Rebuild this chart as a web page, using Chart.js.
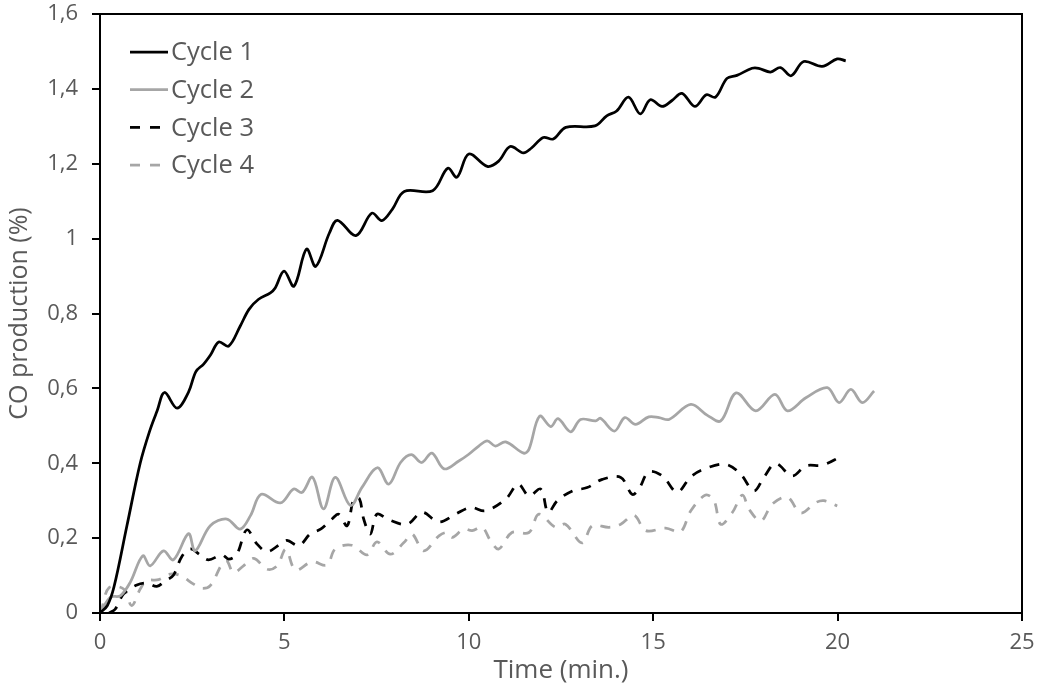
<!DOCTYPE html>
<html>
<head>
<meta charset="utf-8">
<script src="https://cdn.jsdelivr.net/npm/chart.js@4.4.0/dist/chart.umd.min.js"></script>
<style>
    body { margin: 0; background: #fff; }
    #wrap { width: 1039px; height: 686px; }
</style>
</head>
<body>
<div id="wrap"><canvas id="coChart"></canvas></div>
<script>
// values (time in min., CO in %)
const cycleLabels = ["Cycle 1", "Cycle 2", "Cycle 3", "Cycle 4"];

const cycle1Time = [0, 0.2, 0.38, 0.73, 1.09, 1.36, 1.55, 1.75, 2.09, 2.4, 2.6, 2.81, 3.0, 3.22, 3.49, 3.8, 4.04, 4.3, 4.62, 4.75, 4.99, 5.26, 5.6, 5.85, 6.22, 6.44, 6.94, 7.37, 7.64, 7.93, 8.25, 9.02, 9.43, 9.68, 10.0, 10.5, 10.81, 11.12, 11.48, 11.7, 12.02, 12.29, 12.63, 13.42, 13.74, 14.01, 14.33, 14.65, 14.92, 15.24, 15.51, 15.78, 16.13, 16.44, 16.69, 17.0, 17.27, 17.68, 17.86, 18.18, 18.45, 18.74, 19.08, 19.58, 19.99, 20.22];
const cycle1Values = [0, 0.02, 0.07, 0.233, 0.4, 0.49, 0.54, 0.589, 0.547, 0.59, 0.645, 0.665, 0.69, 0.724, 0.713, 0.766, 0.811, 0.838, 0.855, 0.868, 0.913, 0.873, 0.972, 0.926, 1.015, 1.049, 1.008, 1.068, 1.048, 1.079, 1.126, 1.128, 1.188, 1.164, 1.226, 1.193, 1.207, 1.246, 1.229, 1.242, 1.27, 1.266, 1.297, 1.301, 1.328, 1.341, 1.378, 1.333, 1.371, 1.353, 1.369, 1.388, 1.353, 1.384, 1.378, 1.428, 1.436, 1.455, 1.455, 1.445, 1.457, 1.435, 1.473, 1.46, 1.48, 1.475];

const cycle2Time = [0, 0.28, 0.55, 0.82, 1.16, 1.36, 1.72, 1.99, 2.4, 2.58, 2.99, 3.44, 3.8, 4.08, 4.37, 4.89, 5.25, 5.48, 5.76, 6.06, 6.38, 6.79, 7.1, 7.52, 7.83, 8.15, 8.44, 8.72, 9.0, 9.33, 9.73, 10.0, 10.27, 10.5, 10.72, 11.0, 11.49, 11.63, 11.92, 12.22, 12.42, 12.76, 13.03, 13.44, 13.57, 13.95, 14.23, 14.52, 14.88, 15.16, 15.43, 16.02, 16.47, 16.83, 17.25, 17.78, 18.3, 18.64, 19.14, 19.72, 20.04, 20.36, 20.67, 20.99];
const cycle2Values = [0, 0.042, 0.046, 0.082, 0.153, 0.126, 0.166, 0.142, 0.212, 0.166, 0.233, 0.251, 0.224, 0.26, 0.317, 0.294, 0.331, 0.322, 0.363, 0.278, 0.362, 0.287, 0.335, 0.388, 0.344, 0.402, 0.423, 0.402, 0.427, 0.385, 0.406, 0.424, 0.446, 0.46, 0.446, 0.457, 0.427, 0.437, 0.526, 0.498, 0.519, 0.484, 0.517, 0.513, 0.52, 0.486, 0.522, 0.504, 0.524, 0.522, 0.517, 0.557, 0.528, 0.513, 0.588, 0.54, 0.584, 0.54, 0.575, 0.602, 0.562, 0.597, 0.562, 0.593];

const cycle3Time = [0.25, 0.41, 0.64, 1.0, 1.27, 1.54, 1.77, 1.99, 2.22, 2.45, 2.72, 2.94, 3.31, 3.49, 3.71, 3.98, 4.26, 4.53, 4.89, 5.07, 5.39, 5.7, 5.98, 6.29, 6.47, 6.7, 6.88, 7.03, 7.15, 7.33, 7.51, 7.83, 8.33, 8.73, 9.19, 9.64, 10.05, 10.45, 11.0, 11.34, 11.63, 11.95, 12.15, 12.4, 12.81, 13.21, 13.62, 14.12, 14.43, 14.61, 14.88, 15.25, 15.65, 16.02, 16.42, 16.97, 17.37, 17.73, 18.0, 18.32, 18.77, 19.14, 19.59, 20.09];
const cycle3Values = [0, 0.01, 0.051, 0.075, 0.08, 0.071, 0.086, 0.101, 0.151, 0.171, 0.155, 0.142, 0.155, 0.144, 0.157, 0.222, 0.184, 0.164, 0.184, 0.194, 0.18, 0.211, 0.224, 0.251, 0.264, 0.233, 0.304, 0.306, 0.251, 0.211, 0.264, 0.249, 0.237, 0.269, 0.243, 0.264, 0.282, 0.273, 0.304, 0.344, 0.313, 0.331, 0.269, 0.3, 0.326, 0.335, 0.357, 0.362, 0.317, 0.331, 0.377, 0.366, 0.323, 0.364, 0.386, 0.397, 0.371, 0.326, 0.362, 0.399, 0.366, 0.393, 0.395, 0.418];

const cycle4Time = [0, 0.04, 0.25, 0.64, 0.86, 1.09, 1.27, 1.59, 1.9, 2.18, 2.54, 2.76, 2.99, 3.31, 3.44, 3.62, 3.89, 4.17, 4.53, 4.8, 5.04, 5.3, 5.75, 6.15, 6.38, 6.83, 7.24, 7.51, 7.87, 8.24, 8.46, 8.78, 9.19, 9.41, 9.55, 9.86, 10.09, 10.36, 10.59, 10.81, 11.17, 11.63, 11.9, 12.35, 12.62, 13.07, 13.35, 13.8, 14.12, 14.48, 14.8, 15.34, 15.74, 16.02, 16.42, 16.65, 16.83, 17.15, 17.42, 17.6, 17.92, 18.23, 18.64, 19.0, 19.41, 19.63, 19.99];
const cycle4Values = [0, 0.01, 0.068, 0.064, 0.02, 0.064, 0.086, 0.089, 0.104, 0.1, 0.077, 0.066, 0.073, 0.131, 0.139, 0.108, 0.126, 0.146, 0.117, 0.126, 0.17, 0.115, 0.137, 0.128, 0.171, 0.181, 0.155, 0.19, 0.157, 0.188, 0.211, 0.166, 0.206, 0.215, 0.202, 0.224, 0.22, 0.229, 0.193, 0.171, 0.215, 0.215, 0.264, 0.229, 0.237, 0.187, 0.233, 0.229, 0.237, 0.261, 0.22, 0.227, 0.217, 0.273, 0.315, 0.3, 0.237, 0.269, 0.315, 0.277, 0.246, 0.291, 0.309, 0.267, 0.295, 0.3, 0.286];

const yTicks = [0, 0.2, 0.4, 0.6, 0.8, 1, 1.2, 1.4, 1.6];
const xTicks = [0, 5, 10, 15, 20, 25];

const textGrey = "#595959";
const fontFamily = "'Open Sans', sans-serif";

function toPoints(times, values) {
    return times.map((t, i) => ({ x: t, y: values[i] }));
}

// legend drawn inside the plot area, top left, like the original
const innerLegend = {
    id: "innerLegend",
    afterDraw(chart) {
        const ctx = chart.ctx;
        const area = chart.chartArea;
        ctx.save();
        // frame on top and right
        ctx.strokeStyle = "#000";
        ctx.lineWidth = 2;
        ctx.strokeRect(area.left, area.top, area.right - area.left, area.bottom - area.top);

        ctx.font = "25.5px " + fontFamily;
        ctx.textBaseline = "middle";
        ctx.fillStyle = textGrey;
        chart.data.datasets.forEach((ds, i) => {
            const y = 52 + i * 37.7;
            const dashed = !!ds.borderDash;
            ctx.beginPath();
            ctx.setLineDash(dashed ? [10, 10] : []);
            ctx.strokeStyle = ds.borderColor;
            ctx.lineWidth = ds.borderWidth;
            ctx.moveTo(130, y);
            ctx.lineTo(dashed ? 160 : 168, y);
            ctx.stroke();
            ctx.setLineDash([]);
            ctx.fillText(ds.label, 171, y + 1);
        });
        ctx.restore();
    }
};

document.addEventListener("DOMContentLoaded", () => {
    const ctx = document.getElementById("coChart").getContext("2d");
    new Chart(ctx, {
        type: "line",
        data: {
            datasets: [
                { label: cycleLabels[0], data: toPoints(cycle1Time, cycle1Values), borderColor: "#000000", borderWidth: 2.75 },
                { label: cycleLabels[1], data: toPoints(cycle2Time, cycle2Values), borderColor: "#a6a6a6", borderWidth: 2.75 },
                { label: cycleLabels[2], data: toPoints(cycle3Time, cycle3Values), borderColor: "#000000", borderWidth: 2.75, borderDash: [10, 9] },
                { label: cycleLabels[3], data: toPoints(cycle4Time, cycle4Values), borderColor: "#a6a6a6", borderWidth: 2.75, borderDash: [10, 9] }
            ]
        },
        options: {
            responsive: true,
            maintainAspectRatio: false,
            animation: false,
            layout: { padding: { top: 14, right: 17, left: 0, bottom: 0 } },
            elements: {
                point: { radius: 0 },
                line: { tension: 0.35, fill: false }
            },
            plugins: {
                legend: { display: false },
                tooltip: { enabled: false }
            },
            scales: {
                x: {
                    type: "linear",
                    min: 0,
                    max: 25,
                    afterBuildTicks: scale => { scale.ticks = xTicks.map(v => ({ value: v })); },
                    afterFit: scale => {
                        scale.height = 73;
                        scale.paddingLeft = 0;
                        scale.paddingRight = 0;
                    },
                    grid: { drawOnChartArea: false, color: "#000", lineWidth: 2, tickLength: 8 },
                    border: { color: "#000", width: 2 },
                    ticks: { color: textGrey, font: { family: fontFamily, size: 22 }, padding: 9, maxRotation: 0 },
                    title: { display: true, text: "Time (min.)", color: textGrey, font: { family: fontFamily, size: 26 }, padding: { top: 0, bottom: 0 } }
                },
                y: {
                    min: 0,
                    max: 1.6,
                    afterBuildTicks: scale => { scale.ticks = yTicks.map(v => ({ value: v })); },
                    afterFit: scale => {
                        scale.width = 100;
                        scale.paddingTop = 0;
                        scale.paddingBottom = 0;
                    },
                    grid: { drawOnChartArea: false, color: "#000", lineWidth: 2, tickLength: 8 },
                    border: { color: "#000", width: 2 },
                    ticks: {
                        color: textGrey,
                        font: { family: fontFamily, size: 22 },
                        padding: 14,
                        callback: v => String(Number(v.toFixed(1))).replace(".", ",")
                    },
                    title: { display: true, text: "CO production (%)", color: textGrey, font: { family: fontFamily, size: 25 }, padding: { top: 5, bottom: 0 } }
                }
            }
        },
        plugins: [innerLegend]
    });
});
</script>
</body>
</html>
